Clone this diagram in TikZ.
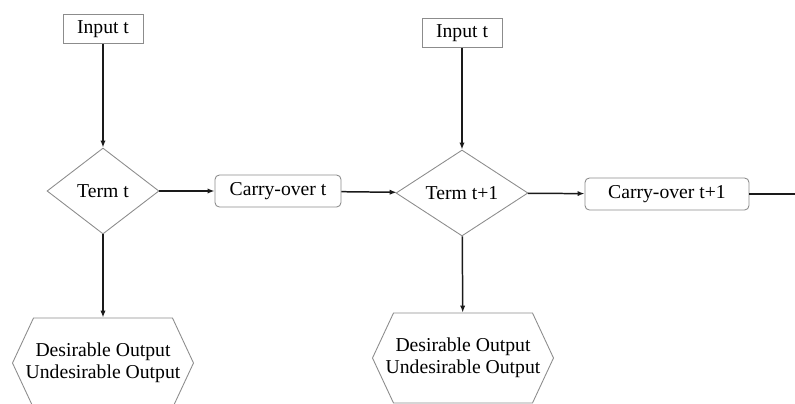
\documentclass[tikz,border=0pt]{standalone}
\usepackage{fontspec}
\setmainfont{Liberation Serif}
\usetikzlibrary{shapes.geometric,arrows.meta}
\definecolor{boxgray}{HTML}{8C8C8C}
\definecolor{linedark}{HTML}{1A1A1A}

\begin{document}
\begin{tikzpicture}[x=0.02cm,y=-0.02cm,
	font=\rmfamily\fontsize{11.2}{12.6}\selectfont,
	inputbox/.style={draw=boxgray,line width=0.5pt,minimum width=1.6cm,minimum height=0.58cm,inner sep=0pt},
	termbox/.style={diamond,draw=boxgray,line width=0.5pt,inner sep=0pt,minimum height=1.72cm},
	carrybox/.style={draw=boxgray,line width=0.5pt,rounded corners=2.5pt,minimum height=0.64cm,inner sep=0pt},
	outbox/.style={minimum width=2.78cm,minimum height=1.8cm,inner sep=0pt,align=center},
	hexline/.style={draw=boxgray,line width=0.5pt},
	flow/.style={draw=linedark,line width=0.85pt,-{Latex[length=4pt,width=3pt]}}]

\def\width{795}
\def\height{403}
\def\hexw{90.5}
\def\hexe{69.5}
\def\hexh{45}

\clip (0,0) rectangle (\width,\height);

% Term t
\node [inputbox] (input1) at (103,29) {Input t};
\node [termbox,minimum width=2.24cm] (term1) at (103,191) {Term t};
\node [carrybox,minimum width=2.52cm] (carry1) at (278,191) {Carry-over t};
\node [outbox] (output1) at (103,363) {Desirable Output\\Undesirable Output};

% Term t+1
\node [inputbox] (input2) at (462,33) {Input t};
\node [termbox,minimum width=2.64cm] (term2) at (462,193) {Term t+1};
\node [carrybox,minimum width=3.28cm] (carry2) at (667,194) {Carry-over t+1};
\node [outbox] (output2) at (463,358) {Desirable Output\\Undesirable Output};

\coordinate (next) at (810,194);

% Hexagons
\foreach \hex in {output1,output2}
	\draw [hexline] (\hex)
		+(-\hexw,0) -- +(-\hexe,-\hexh) -- +(\hexe,-\hexh)
		-- +(\hexw,0) -- +(\hexe,\hexh) -- +(-\hexe,\hexh) -- cycle;

% Arrows
\draw [flow] (input1) -- (term1);
\draw [flow] (term1) -- (carry1);
\draw [flow] (term1) -- (output1);
\draw [flow] (carry1) -- (term2);
\draw [flow] (input2) -- (term2);
\draw [flow] (term2) -- (carry2);
\draw [flow] (term2) -- (output2);
\draw [flow] (carry2) -- (next);

\end{tikzpicture}
\end{document}
